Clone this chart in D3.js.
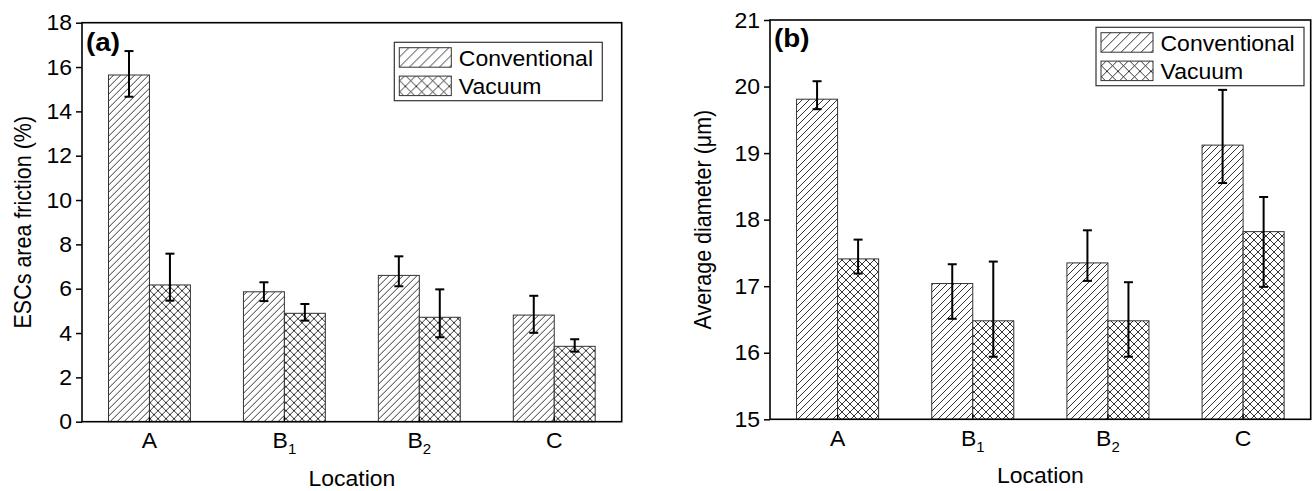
<!DOCTYPE html>
<html>
<head>
<meta charset="utf-8">
<script src="https://cdn.jsdelivr.net/npm/d3@7/dist/d3.min.js"></script>
<style>
html,body{margin:0;padding:0;background:#fff;}
svg{display:block;font-family:"Liberation Sans",Arial,Helvetica,sans-serif;}
</style>
</head>
<body>
<svg id="chart" width="1313" height="491"></svg>
<script>
// ---- data ----
const categories = ["A", "B1", "B2", "C"];
const seriesNames = ["Conventional", "Vacuum"];

// panel (a): ESCs area friction (%)
const aConventional = [15.64, 5.86, 6.60, 4.81];
const aConventionalHi = [16.72, 6.29, 7.46, 5.68];
const aConventionalLo = [14.66, 5.44, 6.11, 4.01];
const aVacuum = [6.17, 4.89, 4.71, 3.40];
const aVacuumHi = [7.58, 5.31, 5.97, 3.72];
const aVacuumLo = [5.46, 4.56, 3.81, 3.16];
const aTicks = [0, 2, 4, 6, 8, 10, 12, 14, 16, 18];

// panel (b): Average diameter (μm)
const bConventional = [19.81, 17.04, 17.35, 19.12];
const bConventionalHi = [20.08, 17.33, 17.84, 19.95];
const bConventionalLo = [19.66, 16.51, 17.08, 18.55];
const bVacuum = [17.41, 16.48, 16.48, 17.82];
const bVacuumHi = [17.70, 17.37, 17.06, 18.34];
const bVacuumLo = [17.19, 15.94, 15.94, 16.99];
const bTicks = [15, 16, 17, 18, 19, 20, 21];

const SX = 1.07; // horizontal text stretch
const FONT = 21.5;

const svg = d3.select("#chart");
const defs = svg.append("defs");

function hatchPattern(id, size, cross) {
  const p = defs.append("pattern").attr("id", id)
    .attr("patternUnits", "userSpaceOnUse")
    .attr("width", size).attr("height", size);
  p.append("rect").attr("width", size).attr("height", size).attr("fill", "#fff");
  const s = size;
  p.append("path")
    .attr("d", `M0,${s} L${s},0 M${-s/4},${s/4} L${s/4},${-s/4} M${s*3/4},${s*5/4} L${s*5/4},${s*3/4}`)
    .attr("stroke", "#000").attr("stroke-width", 0.8).attr("fill", "none");
  if (cross) {
    p.append("path")
      .attr("d", `M0,0 L${s},${s} M${-s/4},${s*3/4} L${s/4},${s*5/4} M${s*3/4},${-s/4} L${s*5/4},${s/4}`)
      .attr("stroke", "#000").attr("stroke-width", 0.8).attr("fill", "none");
  }
}
hatchPattern("diag", 7, false);
hatchPattern("cross", 8, true);
hatchPattern("diagL", 10, false);
hatchPattern("crossL", 11, true);

function stretchedText(g, x, y, txt, opts = {}) {
  const t = g.append("text")
    .attr("transform", `translate(${x},${y}) scale(${SX},1)` + (opts.rotate ? ` rotate(${opts.rotate})` : ""))
    .attr("font-size", opts.size || FONT)
    .attr("text-anchor", opts.anchor || "start")
    .attr("fill", "#000");
  if (opts.bold) t.attr("font-weight", "bold");
  if (opts.dy) t.attr("dy", opts.dy);
  t.text(txt);
  return t;
}

function drawPanel(cfg) {
  const { left, top, right, bottom } = cfg;
  const W = right - left, H = bottom - top;
  const g = svg.append("g").attr("transform", `translate(${left},${top})`);

  const x = d3.scaleBand().domain(categories).range([0, W]).paddingInner(0).paddingOuter(0);
  const groupW = x.bandwidth() * 0.607;
  const xs = d3.scaleBand().domain(seriesNames).range([0, groupW]);
  const y = d3.scaleLinear().domain(cfg.domain).range([H, 0]);

  const series = [
    { name: "Conventional", vals: cfg.conv, hi: cfg.convHi, lo: cfg.convLo, fill: "url(#diag)" },
    { name: "Vacuum", vals: cfg.vac, hi: cfg.vacHi, lo: cfg.vacLo, fill: "url(#cross)" }
  ];

  const rows = [];
  series.forEach(s => categories.forEach((c, i) => rows.push({
    cat: c, series: s.name, v: s.vals[i], hi: s.hi[i], lo: s.lo[i], fill: s.fill
  })));

  const bx = d => x(d.cat) + (x.bandwidth() - groupW) / 2 + xs(d.series);

  g.selectAll("rect.bar").data(rows).join("rect").attr("class", "bar")
    .attr("x", bx).attr("y", d => y(d.v))
    .attr("width", xs.bandwidth()).attr("height", d => y(cfg.domain[0]) - y(d.v))
    .attr("fill", d => d.fill).attr("stroke", "#333").attr("stroke-width", 1);

  // error bars
  const eb = g.selectAll("g.err").data(rows).join("g").attr("class", "err")
    .attr("stroke", "#000").attr("stroke-width", 2);
  const cx = d => bx(d) + xs.bandwidth() / 2;
  eb.append("line").attr("x1", cx).attr("x2", cx).attr("y1", d => y(d.hi)).attr("y2", d => y(d.lo));
  eb.append("line").attr("x1", d => cx(d) - 4.5).attr("x2", d => cx(d) + 4.5).attr("y1", d => y(d.hi)).attr("y2", d => y(d.hi));
  eb.append("line").attr("x1", d => cx(d) - 4.5).attr("x2", d => cx(d) + 4.5).attr("y1", d => y(d.lo)).attr("y2", d => y(d.lo));

  // y axis ticks (outward)
  const yAxis = d3.axisLeft(y).tickValues(cfg.ticks).tickSize(6).tickFormat("");
  const ya = g.append("g").call(yAxis);
  ya.select(".domain").remove();
  ya.selectAll("line").attr("stroke", "#000").attr("stroke-width", 1.5);
  cfg.ticks.forEach(t => stretchedText(g, -10, y(t), d3.format("d")(t), { anchor: "end", dy: "0.36em" }));

  // x axis ticks (inward)
  const xAxis = d3.axisBottom(x).tickSize(-5).tickFormat("");
  const xa = g.append("g").attr("transform", `translate(0,${H})`).call(xAxis);
  xa.select(".domain").remove();
  xa.selectAll("line").attr("stroke", "#000").attr("stroke-width", 1.2);

  categories.forEach(c => {
    const t = g.append("text")
      .attr("transform", `translate(${x(c) + x.bandwidth() / 2},${H + 26.5}) scale(${SX},1)`)
      .attr("font-size", FONT).attr("text-anchor", "middle");
    t.append("tspan").text(c.charAt(0));
    if (c.length > 1) t.append("tspan").attr("font-size", 14).attr("dy", 6).text(c.slice(1));
  });

  // frame
  g.append("rect").attr("width", W).attr("height", H)
    .attr("fill", "none").attr("stroke", "#000").attr("stroke-width", 1.6);

  // axis titles
  stretchedText(g, W / 2, H + 64, "Location", { anchor: "middle" });
  stretchedText(g, cfg.titleX - left, H / 2, cfg.yTitle, { anchor: "middle", rotate: -90 });

  // panel label
  stretchedText(g, 4, cfg.labelY - top, cfg.label, { bold: true, size: 26 });

  // legend
  const lg = svg.append("g").attr("transform", `translate(${cfg.legX},${cfg.legY})`);
  lg.append("rect").attr("width", 208).attr("height", 58.4)
    .attr("fill", "#fff").attr("stroke", "#333").attr("stroke-width", 1.2);
  const legFills = ["url(#diagL)", "url(#crossL)"];
  seriesNames.forEach((s, i) => {
    lg.append("rect").attr("x", 5).attr("y", 5.4 + i * 28.4).attr("width", 52).attr("height", 19.5)
      .attr("fill", legFills[i]).attr("stroke", "#333").attr("stroke-width", 1);
    stretchedText(lg, 64.5, 5.4 + i * 28.4 + 18, s);
  });
}

drawPanel({
  left: 82, top: 22.7, right: 621.7, bottom: 421.7, domain: [0, 18], ticks: aTicks,
  conv: aConventional, convHi: aConventionalHi, convLo: aConventionalLo,
  vac: aVacuum, vacHi: aVacuumHi, vacLo: aVacuumLo,
  yTitle: "ESCs area friction (%)", titleX: 31, label: "(a)", labelY: 51,
  legX: 394.3, legY: 42.3
});
drawPanel({
  left: 770, top: 20, right: 1310.7, bottom: 419.3, domain: [15, 21], ticks: bTicks,
  conv: bConventional, convHi: bConventionalHi, convLo: bConventionalLo,
  vac: bVacuum, vacHi: bVacuumHi, vacLo: bVacuumLo,
  yTitle: "Average diameter (μm)", titleX: 711, label: "(b)", labelY: 47,
  legX: 1096, legY: 27.3
});
</script>
</body>
</html>
